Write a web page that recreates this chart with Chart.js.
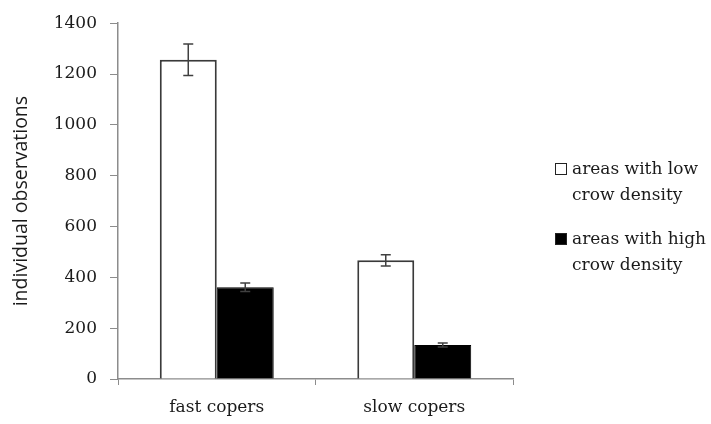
<!DOCTYPE html>
<html>
<head>
<meta charset="utf-8">
<script src="https://cdn.jsdelivr.net/npm/chart.js@4.4.1/dist/chart.umd.min.js"></script>
<style>
  html, body { margin: 0; padding: 0; background: #fff; }
  #wrap { width: 711px; height: 424px; }
</style>
</head>
<body>
<div id="wrap"><canvas id="myChart" width="711" height="424"></canvas></div>
<script>
// values
let categories = ["fast copers", "slow copers"];
let lowDensity = [1256, 467];
let lowErrors = [62, 22];
let highDensity = [361, 134];
let highErrors = [17, 8];
let legendLines = [["areas with low", "crow density"], ["areas with high", "crow density"]];
let yTicks = [0, 200, 400, 600, 800, 1000, 1200, 1400];

let serif = "'DejaVu Serif', serif";
let errs = [lowErrors, highErrors];

// error bars on top of each bar
const errorBars = {
    id: "errorBars",
    afterDatasetsDraw(chart) {
        const ctx = chart.ctx;
        const y = chart.scales.y;
        ctx.save();
        ctx.strokeStyle = "#404040";
        ctx.lineWidth = 1.5;
        chart.data.datasets.forEach((ds, i) => {
            chart.getDatasetMeta(i).data.forEach((bar, j) => {
                let top = y.getPixelForValue(ds.data[j] + errs[i][j]);
                let bot = y.getPixelForValue(ds.data[j] - errs[i][j]);
                ctx.beginPath();
                ctx.moveTo(bar.x, top); ctx.lineTo(bar.x, bot);
                ctx.moveTo(bar.x - 5, top); ctx.lineTo(bar.x + 5, top);
                ctx.moveTo(bar.x - 5, bot); ctx.lineTo(bar.x + 5, bot);
                ctx.stroke();
            });
        });
        ctx.restore();
    }
};

// legend with wrapped text on the right
const sideLegend = {
    id: "sideLegend",
    afterDraw(chart) {
        const ctx = chart.ctx;
        let starts = [170, 240];
        ctx.save();
        ctx.font = "17px " + serif;
        ctx.textBaseline = "middle";
        chart.data.datasets.forEach((ds, i) => {
            let y0 = starts[i];
            ctx.fillStyle = ds.backgroundColor;
            ctx.fillRect(555.5, y0 - 6.5, 11, 11);
            ctx.strokeStyle = "#222";
            ctx.lineWidth = 1;
            ctx.strokeRect(555.5, y0 - 6.5, 11, 11);
            ctx.fillStyle = "#1a1a1a";
            legendLines[i].forEach((t, k) => {
                ctx.fillText(t, 572, y0 + k * 26);
            });
        });
        ctx.restore();
    }
};

new Chart("myChart", {
    type: "bar",
    data: {
        labels: categories,
        datasets: [{
            label: legendLines[0].join(" "),
            data: lowDensity,
            backgroundColor: "#ffffff",
            borderColor: "#3a3a3a",
            borderWidth: 2,
            borderSkipped: "bottom"
        }, {
            label: legendLines[1].join(" "),
            data: highDensity,
            backgroundColor: "#000000",
            borderColor: "#000000",
            borderWidth: 1,
            borderSkipped: "bottom"
        }]
    },
    options: {
        responsive: false,
        animation: false,
        layout: { padding: { top: 20, right: 198, left: 0, bottom: 0 } },
        datasets: { bar: { categoryPercentage: 0.577, barPercentage: 1 } },
        plugins: {
            legend: { display: false },
            tooltip: { enabled: false }
        },
        scales: {
            x: {
                grid: { offset: true, drawOnChartArea: false, tickLength: 6, color: "#8c8c8c" },
                border: { color: "#8c8c8c", width: 1.5 },
                ticks: { color: "#1a1a1a", font: { family: serif, size: 17 }, padding: 12 },
                afterFit(scale) { scale.height = 45; }
            },
            y: {
                min: 0,
                max: 1400,
                afterBuildTicks(scale) { scale.ticks = yTicks.map(v => ({ value: v })); },
                grid: { drawOnChartArea: false, tickLength: 8, color: "#8c8c8c" },
                border: { color: "#8c8c8c", width: 1.5 },
                ticks: {
                    color: "#1a1a1a",
                    font: { family: serif, size: 17 },
                    padding: 13,
                    callback: (v) => String(v)
                },
                title: {
                    display: true,
                    text: "individual observations",
                    color: "#1a1a1a",
                    font: { family: "'Open Sans', sans-serif", size: 19.5 },
                    padding: { top: 10, bottom: 0 }
                },
                afterFit(scale) { scale.width = 118; }
            }
        }
    },
    plugins: [errorBars, sideLegend]
});
</script>
</body>
</html>
